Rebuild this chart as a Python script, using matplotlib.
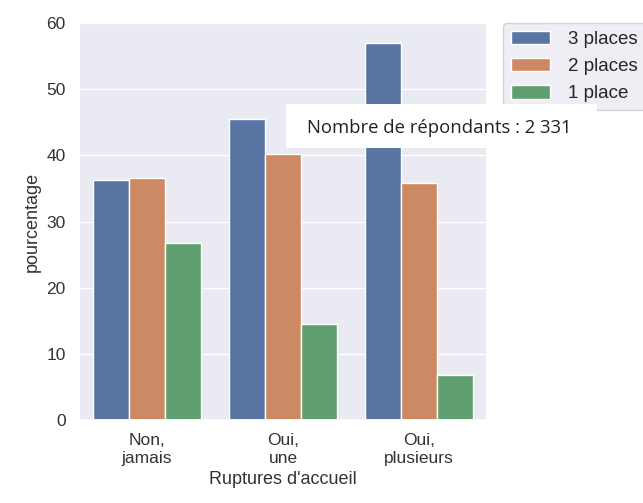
import matplotlib
matplotlib.use("Agg")
import matplotlib.pyplot as plt
import pandas as pd
import seaborn as sns
from matplotlib.patches import Rectangle

categories = ["Non,\njamais", "Oui,\nune", "Oui,\nplusieurs"]
hues = ["3 places", "2 places", "1 place"]
val_3 = [36.3, 45.5, 57.0]
val_2 = [36.6, 40.2, 35.8]
val_1 = [26.7, 14.5, 6.8]

rows = []
for h, vals in zip(hues, [val_3, val_2, val_1]):
    for c, v in zip(categories, vals):
        rows.append({"rupture": c, "places": h, "pourcentage": v})
df = pd.DataFrame(rows)

sns.set_theme(style="darkgrid")
plt.rcParams['font.family'] = ['Liberation Sans', 'DejaVu Sans']

fig = plt.figure(figsize=(6.43, 5.03), dpi=100)
ax = fig.add_axes([79 / 643, 1 - 420 / 503, 408 / 643, 397 / 503])
sns.barplot(data=df, x="rupture", y="pourcentage", hue="places",
            hue_order=hues, order=categories, ax=ax)
ax.set_ylim(0, 60)
ax.set_xlabel("Ruptures d'accueil", fontsize=13, color="#333333")
ax.set_ylabel("pourcentage", fontsize=13, color="#333333")
ax.tick_params(labelsize=12.5, colors="#333333")
leg = ax.legend(loc="upper left", bbox_to_anchor=(1.04, 1.0), fontsize=13.5,
                borderaxespad=0., handlelength=2.1, handletextpad=0.95,
                labelspacing=0.55)

fig.patches.append(Rectangle((286 / 643, 1 - 148 / 503), 311 / 643, 44 / 503,
                             transform=fig.transFigure, facecolor="white",
                             edgecolor="none", zorder=10))
fig.text(307 / 643, 1 - 128 / 503, "Nombre de répondants : 2 331",
         fontsize=13.3, family=["Open Sans", "DejaVu Sans"], color="#222222",
         va="center", ha="left", zorder=11)

fig.savefig("out.png", dpi=100)
